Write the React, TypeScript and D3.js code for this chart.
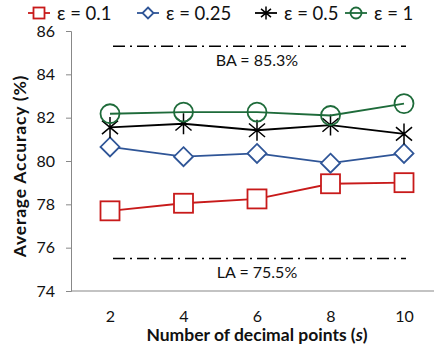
import React, { useEffect, useRef } from 'react'
import * as d3 from 'd3'

const decimals = [2, 4, 6, 8, 10]
const eps01 = [77.7, 78.05, 78.25, 78.95, 79.0]
const eps025 = [80.65, 80.2, 80.35, 79.9, 80.35]
const eps05 = [81.55, 81.72, 81.42, 81.66, 81.25]
const eps1 = [82.18, 82.26, 82.26, 82.1, 82.65]
const yTicks = [74, 76, 78, 80, 82, 84, 86]
const baValue = 85.3
const laValue = 75.5

const series = [
	{ name: 'ε = 0.1', values: eps01, color: '#C81A1A', marker: 'square' },
	{ name: 'ε = 0.25', values: eps025, color: '#2F5597', marker: 'diamond' },
	{ name: 'ε = 0.5', values: eps05, color: '#000000', marker: 'star' },
	{ name: 'ε = 1', values: eps1, color: '#1E6B3A', marker: 'circle' },
]

const font = 'Lato, "Open Sans", sans-serif'

const drawMarker = (g: any, type: string, color: string, s: number) => {
	if (type === 'square') {
		g.append('rect').attr('x', -s / 2).attr('y', -s / 2).attr('width', s).attr('height', s)
			.attr('fill', 'white').attr('stroke', color).attr('stroke-width', 1.8)
	} else if (type === 'diamond') {
		const r = s / 2
		g.append('path').attr('d', `M0,${-r}L${r},0L0,${r}L${-r},0Z`)
			.attr('fill', 'white').attr('stroke', color).attr('stroke-width', 1.8)
	} else if (type === 'circle') {
		g.append('circle').attr('r', s / 2).attr('fill', 'none').attr('stroke', color).attr('stroke-width', 1.8)
	} else {
		// asterisk: vertical + two diagonals
		const r = s / 2
		const p = [0, 50, 130].map(a => {
			const t = (a * Math.PI) / 180
			return `M${-r * Math.sin(t)},${-r * Math.cos(t)}L${r * Math.sin(t)},${r * Math.cos(t)}`
		})
		g.append('path').attr('d', p.join(''))
			.attr('stroke', color).attr('stroke-width', 1.5).attr('fill', 'none')
	}
}

const App = () => {
	const ref = useRef<SVGSVGElement>(null)

	useEffect(() => {
		const svg = d3.select(ref.current)
		svg.selectAll('*').remove()

		const x = d3.scaleLinear().domain([2, 10]).range([110, 404])
		const y = d3.scaleLinear().domain([74, 86]).range([291, 31])

		// axes
		svg.append('line').attr('x1', 71).attr('x2', 434).attr('y1', y(74)).attr('y2', y(74))
			.attr('stroke', '#888').attr('stroke-width', 1.2)
		const yAxis = svg.append('g').attr('transform', 'translate(71,0)')
			.call(d3.axisLeft(y).tickValues(yTicks).tickSize(5).tickPadding(11))
		yAxis.select('.domain').attr('stroke', '#888')
		yAxis.selectAll('line').attr('stroke', '#888')
		yAxis.selectAll('text').attr('font-size', 16).attr('font-family', font).attr('fill', '#111')

		const xAxis = svg.append('g').attr('transform', `translate(0,${y(74)})`)
			.call(d3.axisBottom(x).tickValues(decimals).tickSize(0).tickPadding(20))
		xAxis.select('.domain').remove()
		xAxis.selectAll('text').attr('font-size', 16).attr('font-family', font).attr('fill', '#111')

		// reference lines
		const refs = [
			{ v: baValue, label: 'BA = 85.3%', dy: 20 },
			{ v: laValue, label: 'LA = 75.5%', dy: 19 },
		]
		refs.forEach(r => {
			svg.append('line').attr('x1', x(2) + 3).attr('x2', x(10) + 2).attr('y1', y(r.v)).attr('y2', y(r.v))
				.attr('stroke', '#000').attr('stroke-width', 1.5).attr('stroke-dasharray', '12 5 2 5')
			svg.append('text').attr('x', x(6)).attr('y', y(r.v) + r.dy).attr('text-anchor', 'middle')
				.attr('font-size', 16).attr('font-family', font).attr('fill', '#111').text(r.label)
		})

		// series
		const line = d3.line<number>().x((d, i) => x(decimals[i])).y(d => y(d))
		series.forEach(s => {
			svg.append('path').datum(s.values).attr('d', line).attr('fill', 'none')
				.attr('stroke', s.color).attr('stroke-width', 1.8)
			s.values.forEach((v, i) => {
				const g = svg.append('g').attr('transform', `translate(${x(decimals[i])},${y(v)})`)
				drawMarker(g, s.marker, s.color, s.marker === 'star' ? 21 : 19)
			})
		})

		// legend
		const legendX = [28, 137, 255, 345]
		series.forEach((s, i) => {
			const lg = svg.append('g').attr('transform', `translate(${legendX[i]},13)`)
			lg.append('line').attr('x1', 0).attr('x2', 22).attr('stroke', s.color).attr('stroke-width', 1.8)
			const mg = lg.append('g').attr('transform', 'translate(11,0)')
			drawMarker(mg, s.marker, s.color, s.marker === 'star' ? 13 : 11)
			lg.append('text').attr('x', 29).attr('y', 7).attr('font-size', 18.5).attr('font-family', font)
				.attr('fill', '#111').text(s.name)
		})

		// axis titles
		const xt = svg.append('text').attr('x', 257).attr('y', 341).attr('text-anchor', 'middle')
			.attr('font-size', 17.5).attr('font-weight', 'bold').attr('font-family', font).attr('fill', '#111')
		xt.append('tspan').text('Number of decimal points (')
		xt.append('tspan').attr('font-style', 'italic').text('s')
		xt.append('tspan').text(')')

		svg.append('text').attr('transform', `translate(26,166) rotate(-90)`).attr('text-anchor', 'middle')
			.attr('font-size', 17.5).attr('letter-spacing', 0.8).attr('font-weight', 'bold')
			.attr('font-family', font).attr('fill', '#111')
			.text('Average Accuracy (%)')
	}, [])

	return (
		<svg
			ref={ref}
			width={434}
			height={349}
			style={{ position: 'absolute', left: 0, top: 0, background: 'white' }}
		></svg>
	)
}

export default App
